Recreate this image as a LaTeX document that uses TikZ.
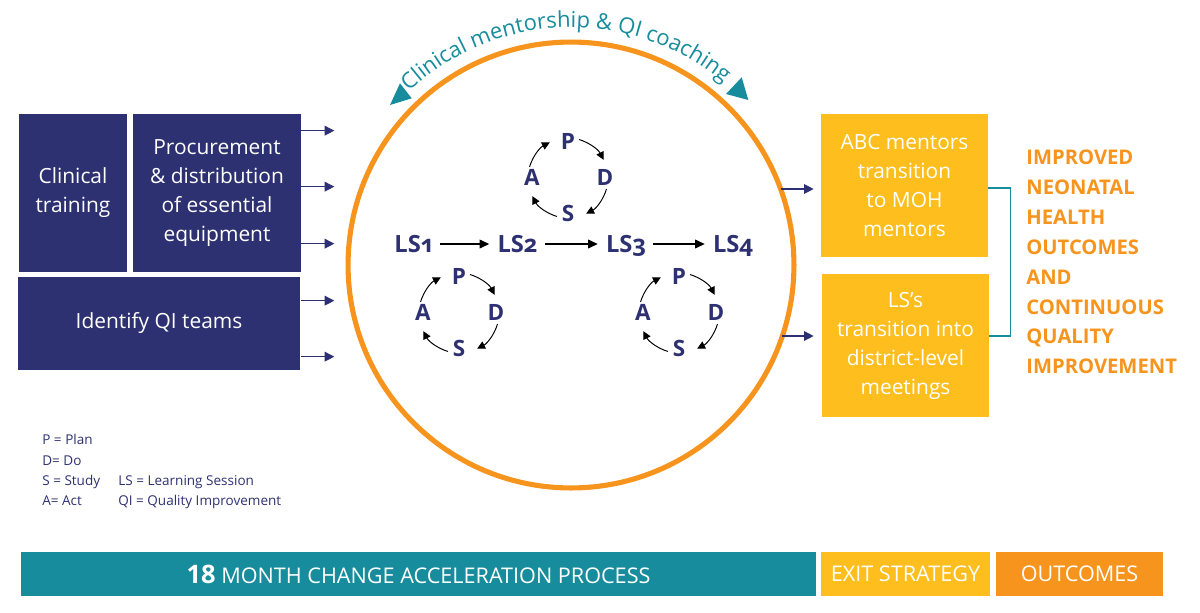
\documentclass[tikz,border=0pt]{standalone}
\usepackage{fontspec}
\setmainfont{Open Sans}
\newfontfamily\lsfont[Numbers=OldStyle]{Open Sans}
\usetikzlibrary{arrows.meta,decorations.text,calc}
\definecolor{navy}{HTML}{2E3171}
\definecolor{corange}{HTML}{F7941D}
\definecolor{cyellow}{HTML}{FDBE1E}
\definecolor{cteal}{HTML}{168C9C}
\newcommand\pdsacycle[3]{%
  \coordinate (#1c) at (#2,#3);
  \node[pdsa] (#1P) at ($(#1c)+(0,-36)$) {P};
  \node[pdsa] (#1D) at ($(#1c)+(37,0)$) {D};
  \node[pdsa] (#1S) at ($(#1c)+(0,36)$) {S};
  \node[pdsa] (#1A) at ($(#1c)+(-36,0)$) {A};
  \foreach \a in {74,-16,-106,-196}{
    \draw[cyc] ($(#1c)+(\a:0.8cm)$) arc[start angle=\a, end angle=\a-47, radius=0.8cm];
  }
}
\begin{document}
\begin{tikzpicture}[x=0.02cm, y=-0.02cm,
  navybox/.style={fill=navy, draw=none, text=white, align=center, inner sep=0pt,
    font=\fontsize{11.9}{16.5}\selectfont},
  ybox/.style={fill=cyellow, draw=none, text=white, align=center, inner sep=0pt,
    font=\fontsize{11.9}{16.5}\selectfont},
  barbox/.style={draw=none, text=white, inner sep=0pt, minimum height=0.88cm,
    font=\fontsize{12.3}{14}\selectfont},
  inarrow/.style={draw=navy, line width=0.75pt, -{Triangle[length=5.5pt,width=5.5pt]}},
  lsarrow/.style={draw=black, line width=0.65pt, -{Triangle[length=5.5pt,width=5pt]}},
  cyc/.style={draw=black, line width=0.55pt, -{Triangle[length=4.5pt,width=4.5pt]}},
  lslabel/.style={text=navy, font=\lsfont\bfseries\fontsize{13.5}{16}\selectfont,
    inner sep=0pt, text height=9.7pt, text depth=0pt},
  pdsa/.style={text=navy, font=\bfseries\fontsize{12.8}{15}\selectfont,
    inner sep=0pt, text height=9.1pt, text depth=0pt},
  legend/.style={text=navy, anchor=base west, inner sep=0pt, font=\fontsize{7.7}{9}\selectfont}
]
\useasboundingbox (0,0) rectangle (1200,612);

% left boxes
\node[navybox, minimum width=2.16cm, minimum height=3.16cm] (ct) at (73,193) {Clinical\\training};
\node[navybox, minimum width=3.36cm, minimum height=3.16cm] (pr) at (217,193) {Procurement\\\& distribution\\of essential\\equipment};
\node[navybox, minimum width=5.64cm, minimum height=1.86cm] (iq) at (159,323.5) {Identify QI teams};

\draw[inarrow] ($(pr.north east)+(0,17)$) -- ++(33,0);
\draw[inarrow] ($(pr.north east)+(0,73)$) -- ++(33,0);
\draw[inarrow] ($(pr.north east)+(0,130)$) -- ++(33,0);
\draw[inarrow] ($(iq.north east)+(1,24)$) -- ++(33,0);
\draw[inarrow] ($(iq.north east)+(1,80)$) -- ++(33,0);

% circle
\coordinate (C) at (571,265);
\node[draw=corange, line width=2.9pt, circle, minimum size=8.92cm, inner sep=0pt] (circ) at (C) {};

% curved text
\path[decorate, decoration={text along path, text align=center,
  text={|\color{cteal}\fontsize{12.5}{14}\selectfont|Clinical mentorship {\&} QI coaching}}]
  ($(C)+(142:4.75cm)$) arc[start angle=142, end angle=41, radius=4.75cm];
\fill[cteal] (400,83.3) -- (390,105) -- (411.7,98.3) -- cycle;
\fill[cteal] (741.7,77.3) -- (748.3,100) -- (726,94) -- cycle;

% LS row
\node[lslabel] (ls1) at (413.5,244) {LS1};
\node[lslabel] (ls2) at (517.5,244) {LS2};
\node[lslabel] (ls3) at (626,244) {LS3};
\node[lslabel] (ls4) at (733,244) {LS4};
\draw[lsarrow, shorten <=4pt, shorten >=4.5pt] (ls1) -- (ls2);
\draw[lsarrow, shorten <=4pt, shorten >=4.5pt] (ls2) -- (ls3);
\draw[lsarrow, shorten <=4pt, shorten >=4.5pt] (ls3) -- (ls4);

% PDSA cycles
\pdsacycle{t}{568}{178}
\pdsacycle{l}{459}{313}
\pdsacycle{r}{679}{313}

% right boxes
\node[ybox, minimum width=3.34cm, minimum height=2.86cm] (abc) at (904.5,185.5) {ABC mentors\\transition\\to MOH\\mentors};
\node[ybox, minimum width=3.34cm, minimum height=2.86cm] (lss) at (905.5,345.5) {LS’s\\transition into\\district-level\\meetings};
\draw[inarrow] ($(abc.west)+(-40,3.5)$) -- ($(abc.west)+(-7,3.5)$);
\draw[inarrow] ($(lss.west)+(-40,-9.5)$) -- ($(lss.west)+(-8,-9.5)$);
\draw[cteal, line width=0.6pt] ($(abc.east)+(0,2.5)$) -- ++(22,0) |- ($(lss.east)+(0,-9.5)$);

\node[anchor=west, text=corange, align=left, inner sep=0pt,
  font=\bfseries\fontsize{11.5}{17}\selectfont] (out) at (1026,262)
  {IMPROVED\\NEONATAL\\HEALTH\\OUTCOMES\\AND\\CONTINUOUS\\QUALITY\\IMPROVEMENT};

% legend
\node[legend] (lp) at (42,444) {P = Plan};
\node[legend] (ld) at (42,465) {D= Do};
\node[legend] (ls) at (42,485) {S = Study};
\node[legend] (la) at (42,505) {A= Act};
\node[legend] (lls) at (118,485) {LS = Learning Session};
\node[legend] (lqi) at (118,505) {QI = Quality Improvement};

% bottom bar
\node[barbox, fill=cteal, minimum width=15.9cm] (b1) at (418.5,574)
  {{\bfseries\fontsize{14.5}{16}\selectfont 18} MONTH CHANGE ACCELERATION PROCESS};
\node[barbox, fill=cyellow, minimum width=3.38cm] (b2) at (905.5,574) {EXIT STRATEGY};
\node[barbox, fill=corange, minimum width=3.34cm] (b3) at (1079.5,574) {OUTCOMES};
\end{tikzpicture}
\end{document}
